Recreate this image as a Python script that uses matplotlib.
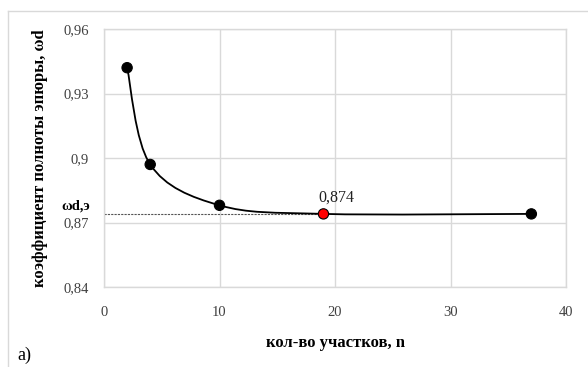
import numpy as np
import matplotlib
matplotlib.use("Agg")
import matplotlib.pyplot as plt
from matplotlib.lines import Line2D
from matplotlib.path import Path
from matplotlib.patches import PathPatch

n_values = [2, 4, 10, 19, 37]
omega_values = [0.942, 0.897, 0.878, 0.874, 0.874]
highlight_index = 3
highlight_label = "0,874"
x_ticks = [0, 10, 20, 30, 40]
y_ticks = [0.84, 0.87, 0.90, 0.93, 0.96]
y_tick_labels = ["0,84", "0,87", "0,9", "0,93", "0,96"]

serif = ["Liberation Serif", "DejaVu Serif"]
grid_c = "#d9d9d9"
txt_c = "#404040"

fig = plt.figure(figsize=(5.88, 3.67), dpi=100)
ax = fig.add_axes([104/588, 1-287/367, (566-104)/588, (287-29)/367])
ax.set_xlim(0, 40)
ax.set_ylim(0.84, 0.96)

# outer chart frame
fig.add_artist(Line2D([8/588, 8/588], [0, 1-11/367], color=grid_c, lw=1, transform=fig.transFigure))
fig.add_artist(Line2D([8/588, 1], [1-11/367, 1-11/367], color=grid_c, lw=1, transform=fig.transFigure))

ax.set_xticks(x_ticks)
ax.set_yticks(y_ticks)
ax.set_xticklabels([str(t) for t in x_ticks], family=serif, fontsize=10.5, color=txt_c)
ax.set_yticklabels(y_tick_labels, family=serif, fontsize=10.5, color=txt_c)
ax.tick_params(axis='y', length=0, pad=11)
ax.tick_params(axis='x', length=0, pad=14)
ax.grid(True, color=grid_c, lw=1)
ax.set_axisbelow(True)
for s in ax.spines.values():
    s.set_color(grid_c)
    s.set_linewidth(1)

# smooth line (Excel-like Bezier) computed in axes coordinates
pts = ax.transLimits.transform(np.column_stack([n_values, omega_values]))
P = np.vstack([pts[0], pts, pts[-1]])
verts = [tuple(pts[0])]
codes = [Path.MOVETO]
for i in range(1, len(P) - 2):
    p0, p1, p2, p3 = P[i-1], P[i], P[i+1], P[i+2]
    c1 = p1 + (p2 - p0) / 6
    c2 = p2 - (p3 - p1) / 6
    verts += [tuple(c1), tuple(c2), tuple(p2)]
    codes += [Path.CURVE4] * 3
ax.add_patch(PathPatch(Path(verts, codes), fill=False, edgecolor='black', lw=1.3, transform=ax.transAxes, zorder=3))

# dashed reference line
ax.plot([0, n_values[highlight_index]], [omega_values[highlight_index]] * 2,
        color='#555555', lw=0.8, ls=(0, (2, 1)), zorder=2)

colors = ['black'] * len(n_values)
colors[highlight_index] = 'red'
ax.scatter(n_values, omega_values, s=55, c=colors, edgecolors='black', linewidths=0.8, zorder=4)

ax.annotate(highlight_label, (n_values[highlight_index], omega_values[highlight_index]),
            xytext=(-4, 6), textcoords='offset points', ha='left', va='bottom',
            family=serif, fontsize=11.5, color='#222222')

ax.set_xlabel("кол-во участков, n", family=serif, fontsize=12, fontweight='bold', va='center')
ax.set_ylabel("коэффициент полноты эпюры, ωd", family=serif, fontsize=12, fontweight='bold', va='center')
ax.xaxis.set_label_coords(0.5, (287-343)/258)
ax.yaxis.set_label_coords((40-104)/462, 0.5)

fig.text(76/588, 1-206/367, "ωd,э", family=serif, fontsize=10.5, fontweight='bold', ha='center', va='center')
fig.text(17/588, 1-355/367, "а)", family=serif, fontsize=13, ha='left', va='center')

fig.savefig("out.png", dpi=100)
